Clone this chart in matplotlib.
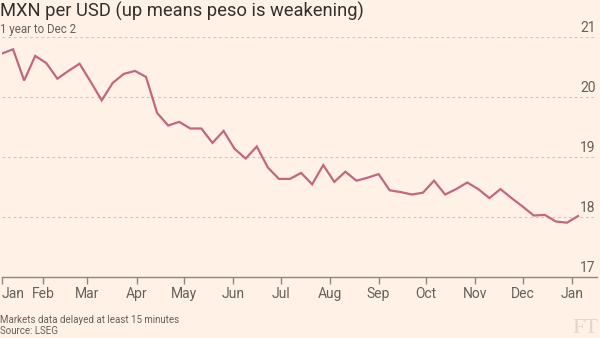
import numpy as np
import pandas as pd
import matplotlib
matplotlib.use("Agg")
import matplotlib.pyplot as plt
import matplotlib.dates as mdates

# Weekly MXN per USD closes
start = "2023-01-06"
mxn_per_usd = [
    20.73, 20.80, 20.28, 20.69, 20.57, 20.31, 20.44, 20.56, 20.26, 19.95,
    20.24, 20.39, 20.44, 20.34, 19.74, 19.53, 19.59, 19.48, 19.48, 19.24,
    19.44, 19.14, 18.98, 19.18, 18.83, 18.64, 18.64, 18.74, 18.55, 18.87,
    18.59, 18.76, 18.61, 18.66, 18.72, 18.45, 18.42, 18.38, 18.41, 18.61,
    18.38, 18.47, 18.58, 18.47, 18.32, 18.47, 18.32, 18.18, 18.03, 18.04,
    17.93, 17.91, 18.02,
]
month_ticks = ["2023-01-06", "2023-02-01", "2023-03-01", "2023-04-01", "2023-05-01",
               "2023-06-01", "2023-07-01", "2023-08-01", "2023-09-01", "2023-10-01",
               "2023-11-01", "2023-12-01", "2024-01-01"]
month_labels = ["Jan", "Feb", "Mar", "Apr", "May", "Jun", "Jul", "Aug", "Sep",
                "Oct", "Nov", "Dec", "Jan"]
y_ticks = [17, 18, 19, 20, 21]

dates = pd.date_range(start, periods=len(mxn_per_usd), freq="7D")

BG = "#fff1e5"
INK = "#33302e"
MUTED = "#66605c"
LINE = "#c1677f"
GRID = "#cfc6bb"

plt.rcParams["font.family"] = ["Roboto", "DejaVu Sans"]

fig = plt.figure(figsize=(6, 3.38), dpi=100, facecolor=BG)
ax = fig.add_axes([2 / 600, 60.7 / 338, 595 / 600, 240 / 338])
ax.set_facecolor(BG)

ax.plot(dates, mxn_per_usd, color=LINE, lw=1.6, solid_joinstyle="miter", zorder=3)

ax.set_ylim(17, 21)
ax.set_xlim(pd.Timestamp("2023-01-06"), pd.Timestamp("2024-01-17"))

# dashed horizontal grid with labels sitting on the right end of each line
for v in y_ticks[1:]:
    ax.axhline(v, color=GRID, lw=0.8, dashes=(2.5, 2.5), zorder=1)
for v in y_ticks:
    ax.annotate(str(v), xy=(1, v), xycoords=("axes fraction", "data"),
                xytext=(-1, 2), textcoords="offset points",
                ha="right", va="bottom", fontsize=10, color=MUTED)

ax.set_yticks([])
for side in ["top", "right", "left"]:
    ax.spines[side].set_visible(False)
ax.spines["bottom"].set_color("#8d8781")
ax.spines["bottom"].set_linewidth(1)

tick_dates = pd.to_datetime(month_ticks)
ax.set_xticks(tick_dates)
ax.set_xticklabels(month_labels)
ax.tick_params(axis="x", length=5, width=1, color="#8d8781", labelsize=10,
               labelcolor=MUTED, pad=2)
ax.get_xticklabels()[0].set_horizontalalignment("left")

fig.text(0.0, 1 - 2 / 338, "MXN per USD (up means peso is weakening)",
         ha="left", va="top", fontsize=13.2, color=INK)
fig.text(0.0, 1 - 23 / 338, "1 year to Dec 2", ha="left", va="top",
         fontsize=8.3, color=MUTED)
fig.text(0.0, 13 / 338, "Markets data delayed at least 15 minutes",
         ha="left", va="bottom", fontsize=7, color=MUTED)
fig.text(0.0, 2 / 338, "Source: LSEG", ha="left", va="bottom", fontsize=7,
         color=MUTED)
fig.text(598 / 600, 0 / 338, "FT", ha="right", va="bottom", fontsize=16,
         family=["Liberation Serif", "DejaVu Serif"], color="#e3d6c9")

fig.savefig("out.png", dpi=100, facecolor=BG)
